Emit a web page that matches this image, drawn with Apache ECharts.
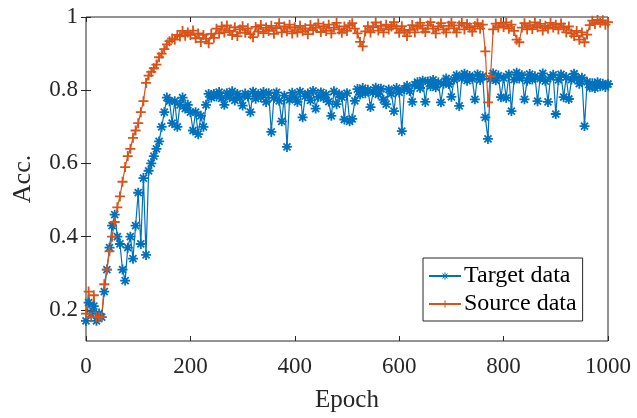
<!DOCTYPE html>
<html>
<head>
<meta charset="utf-8">
<script src="https://cdn.jsdelivr.net/npm/echarts@6/dist/echarts.min.js"></script>
<style>
html,body{margin:0;padding:0;background:#fff;}
#chart{width:637px;height:418px;}
</style>
</head>
<body>
<div id="chart"></div>
<script>
var epochStep = 5;
var targetAcc = [
	0.17,0.22,0.19,0.21,0.17,0.19,0.18,0.25,0.31,0.37,
	0.43,0.46,0.40,0.38,0.31,0.28,0.37,0.40,0.34,0.43,
	0.52,0.38,0.56,0.35,0.58,0.60,0.62,0.64,0.66,0.70,
	0.74,0.78,0.77,0.71,0.77,0.70,0.76,0.78,0.75,0.76,
	0.74,0.69,0.74,0.68,0.73,0.70,0.76,0.79,0.78,0.79,
	0.783,0.795,0.778,0.76,0.792,0.781,0.797,0.772,0.79,0.779,
	0.758,0.791,0.783,0.74,0.796,0.777,0.789,0.781,0.795,0.768,
	0.792,0.686,0.779,0.794,0.771,0.715,0.785,0.645,0.774,0.793,
	0.781,0.768,0.796,0.726,0.784,0.791,0.772,0.798,0.75,0.782,
	0.794,0.779,0.788,0.769,0.73,0.797,0.762,0.789,0.781,0.72,
	0.792,0.715,0.722,0.771,0.803,0.788,0.806,0.792,0.801,0.754,
	0.795,0.807,0.789,0.804,0.774,0.762,0.802,0.791,0.743,0.806,
	0.794,0.688,0.803,0.812,0.798,0.768,0.815,0.822,0.806,0.826,
	0.768,0.824,0.811,0.828,0.808,0.821,0.767,0.818,0.832,0.817,
	0.782,0.829,0.841,0.757,0.833,0.845,0.826,0.839,0.831,0.775,
	0.843,0.828,0.838,0.726,0.667,0.831,0.846,0.827,0.84,0.781,
	0.834,0.779,0.843,0.743,0.829,0.848,0.832,0.841,0.775,0.826,
	0.844,0.829,0.838,0.77,0.832,0.846,0.825,0.768,0.835,0.842,
	0.735,0.828,0.843,0.781,0.836,0.776,0.829,0.845,0.832,0.818,
	0.834,0.702,0.823,0.808,0.819,0.806,0.822,0.811,0.818,0.809,
	0.817
];
var sourceAcc = [
	0.19,0.25,0.18,0.24,0.18,0.18,0.18,0.27,0.31,0.36,
	0.40,0.44,0.48,0.51,0.55,0.59,0.62,0.64,0.67,0.69,
	0.71,0.74,0.77,0.82,0.84,0.85,0.86,0.87,0.89,0.90,
	0.912,0.925,0.934,0.941,0.938,0.951,0.947,0.962,0.949,0.958,
	0.951,0.963,0.942,0.955,0.932,0.951,0.941,0.928,0.954,0.943,
	0.968,0.955,0.974,0.958,0.977,0.962,0.951,0.972,0.948,0.966,
	0.975,0.957,0.969,0.953,0.945,0.973,0.96,0.978,0.956,0.971,
	0.962,0.976,0.954,0.97,0.983,0.958,0.974,0.961,0.979,0.955,
	0.972,0.958,0.976,0.961,0.969,0.953,0.978,0.964,0.971,0.982,
	0.959,0.975,0.962,0.979,0.955,0.971,0.984,0.966,0.957,0.974,
	0.962,0.978,0.983,0.968,0.955,0.932,0.92,0.961,0.975,0.958,
	0.972,0.985,0.963,0.976,0.958,0.979,0.966,0.974,0.986,0.969,
	0.957,0.975,0.962,0.948,0.965,0.978,0.958,0.974,0.984,0.968,
	0.959,0.977,0.986,0.968,0.955,0.974,0.983,0.966,0.958,0.976,
	0.985,0.969,0.958,0.977,0.984,0.966,0.981,0.972,0.96,0.975,
	0.983,0.968,0.979,0.906,0.767,0.838,0.966,0.982,0.971,0.984,
	0.973,0.985,0.968,0.979,0.962,0.938,0.931,0.971,0.983,0.966,
	0.978,0.967,0.985,0.972,0.981,0.963,0.976,0.968,0.984,0.971,
	0.979,0.966,0.982,0.971,0.958,0.974,0.955,0.948,0.962,0.938,
	0.958,0.931,0.952,0.978,0.99,0.981,0.992,0.984,0.991,0.979,
	0.986
];
var xTicks = [0,200,400,600,800,1000];
var yTicks = [0.2,0.4,0.6,0.8,1];

var fontName = 'Liberation Serif';
var axisColor = '#262626';

// matlab like markers
var starSymbol = 'path://M0,-10L0,10M-10,0L10,0M-7,-7L7,7M-7,7L7,-7';
var plusSymbol = 'path://M0,-10L0,10M-10,0L10,0';

function toPairs(values){
	var out = new Array();
	for (var i = 0; i < values.length; i++) {
		out.push([i * epochStep, values[i]]);
	}
	return out;
}

function makeSeries(name, values, color, symbol){
	return {
		name : name,
		type : 'line',
		data : toPairs(values),
		symbol : symbol,
		symbolSize : 10,
		showAllSymbol : true,
		lineStyle : {color: color, width: 1.2},
		itemStyle : {color: color, borderColor: color, borderWidth: 1.8},
		emphasis : {disabled: true}
	};
}

var myChart = echarts.init(document.getElementById('chart'));
var option = {
	animation : false,
	grid : {
		left: 86, right: 29, top: 17, bottom: 75,
		show: true, borderColor: axisColor, borderWidth: 1
	},
	legend : {
		left: 423, top: 258,
		orient: 'vertical',
		backgroundColor: '#fff',
		borderColor: axisColor,
		borderWidth: 1,
		borderRadius: 0,
		padding: [6, 6, 5, 5],
		itemGap: 4,
		itemWidth: 32,
		itemHeight: 9,
		itemStyle: {borderWidth: 1},
		textStyle: {fontFamily: fontName, fontSize: 24, color: '#000', padding: [0, 0, 0, -2]}
	},
	xAxis : [
		{
			type: 'value', min: 0, max: 1000, interval: 200,
			name: 'Epoch', nameLocation: 'middle', nameGap: 47,
			nameTextStyle: {fontFamily: fontName, fontSize: 25, color: axisColor},
			axisLine: {show: false},
			axisTick: {inside: true, length: 5, lineStyle: {color: axisColor}},
			axisLabel: {
				fontFamily: fontName, fontSize: 23, color: axisColor, margin: 14,
				formatter: function(v){ return String(v); }
			},
			splitLine: {show: false}
		},
		{
			type: 'value', position: 'top', min: 0, max: 1000, interval: 200,
			axisLine: {show: false},
			axisTick: {inside: true, length: 5, lineStyle: {color: axisColor}},
			axisLabel: {show: false},
			splitLine: {show: false}
		}
	],
	yAxis : [
		{
			type: 'value', min: 0.115, max: 1,
			name: 'Acc.', nameLocation: 'middle', nameGap: 50, nameRotate: 90,
			nameTextStyle: {fontFamily: fontName, fontSize: 26, color: axisColor},
			axisLine: {show: false},
			axisTick: {inside: true, length: 5, customValues: yTicks, lineStyle: {color: axisColor}},
			axisLabel: {fontFamily: fontName, fontSize: 23, color: axisColor, margin: 8, customValues: yTicks},
			splitLine: {show: false}
		},
		{
			type: 'value', position: 'right', min: 0.115, max: 1,
			axisLine: {show: false},
			axisTick: {inside: true, length: 5, customValues: yTicks, lineStyle: {color: axisColor}},
			axisLabel: {show: false},
			splitLine: {show: false}
		}
	],
	series : [
		makeSeries('Target data', targetAcc, '#0072BD', starSymbol),
		makeSeries('Source data', sourceAcc, '#D95319', plusSymbol)
	]
};
myChart.setOption(option);
</script>
</body>
</html>
